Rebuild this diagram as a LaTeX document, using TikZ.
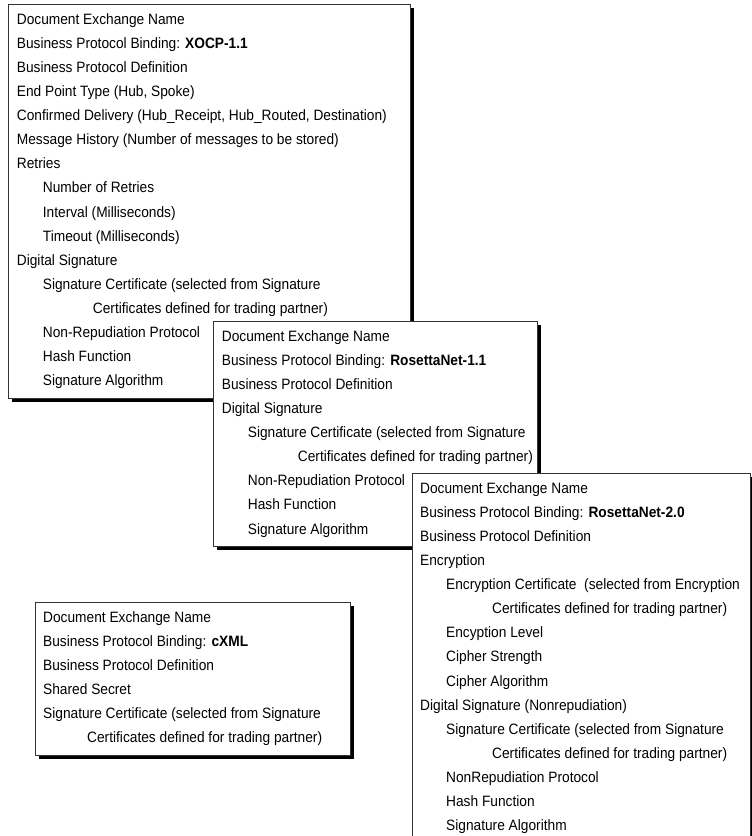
\documentclass[tikz,border=0pt]{standalone}
\usepackage{fontspec}
\setmainfont{Liberation Sans}[FakeStretch=0.915]
\usetikzlibrary{shadows}

\tikzset{
  panel/.style={draw=black!80, line width=0.9pt, fill=white, inner sep=0pt,
    anchor=north west,
    general shadow={fill=black, shadow xshift=4pt, shadow yshift=-3.5pt}},
  listing/.style={anchor=north west, inner sep=0pt, align=left,
    font=\fontsize{15}{24.1}\selectfont},
}
% indentation helpers for nested entries
\newcommand{\lvlone}{\hspace*{26pt}}
\newcommand{\firstline}{\rule{0pt}{15pt}}

\begin{document}
\begin{tikzpicture}[x=1pt,y=-1pt]
\useasboundingbox (0,0) rectangle (752,836);
\clip (0,0) rectangle (752,836);

% XOCP-1.1 binding
\node[panel, minimum width=402pt, minimum height=394pt] (b1) at (8,4) {};
\node[listing] (t1) at (16.7,9) {\firstline Document Exchange Name\\
Business Protocol Binding: \textbf{XOCP-1.1}\\
Business Protocol Definition\\
End Point Type (Hub, Spoke)\\
Confirmed Delivery (Hub\_Receipt, Hub\_Routed, Destination)\\
Message History (Number of messages to be stored)\\
Retries\\
\lvlone Number of Retries\\
\lvlone Interval (Milliseconds)\\
\lvlone Timeout (Milliseconds)\\
Digital Signature\\
\lvlone Signature Certificate (selected from Signature\\
\hspace*{76pt}Certificates defined for trading partner)\\
\lvlone Non-Repudiation Protocol\\
\lvlone Hash Function\\
\lvlone Signature Algorithm};

% RosettaNet-1.1 binding
\node[panel, minimum width=324pt, minimum height=225pt] (b2) at (213,321) {};
\node[listing] (t2) at (221.7,326) {\firstline Document Exchange Name\\
Business Protocol Binding: \textbf{RosettaNet-1.1}\\
Business Protocol Definition\\
Digital Signature\\
\lvlone Signature Certificate (selected from Signature\\
\hspace*{76pt}Certificates defined for trading partner)\\
\lvlone Non-Repudiation Protocol\\
\lvlone Hash Function\\
\lvlone Signature Algorithm};

% RosettaNet-2.0 binding
\node[panel, minimum width=338pt, minimum height=370pt] (b3) at (412,473) {};
\node[listing] (t3) at (420,478) {\firstline Document Exchange Name\\
Business Protocol Binding: \textbf{RosettaNet-2.0}\\
Business Protocol Definition\\
Encryption\\
\lvlone Encryption Certificate \ (selected from Encryption\\
\hspace*{72pt}Certificates defined for trading partner)\\
\lvlone Encyption Level\\
\lvlone Cipher Strength\\
\lvlone Cipher Algorithm\\
Digital Signature (Nonrepudiation)\\
\lvlone Signature Certificate (selected from Signature\\
\hspace*{72pt}Certificates defined for trading partner)\\
\lvlone NonRepudiation Protocol\\
\lvlone Hash Function\\
\lvlone Signature Algorithm};

% cXML binding
\node[panel, minimum width=315pt, minimum height=153pt] (b4) at (35,602) {};
\node[listing] (t4) at (43,607) {\firstline Document Exchange Name\\
Business Protocol Binding: \textbf{cXML}\\
Business Protocol Definition\\
Shared Secret\\
Signature Certificate (selected from Signature\\
\hspace*{44pt}Certificates defined for trading partner)};
\end{tikzpicture}
\end{document}
